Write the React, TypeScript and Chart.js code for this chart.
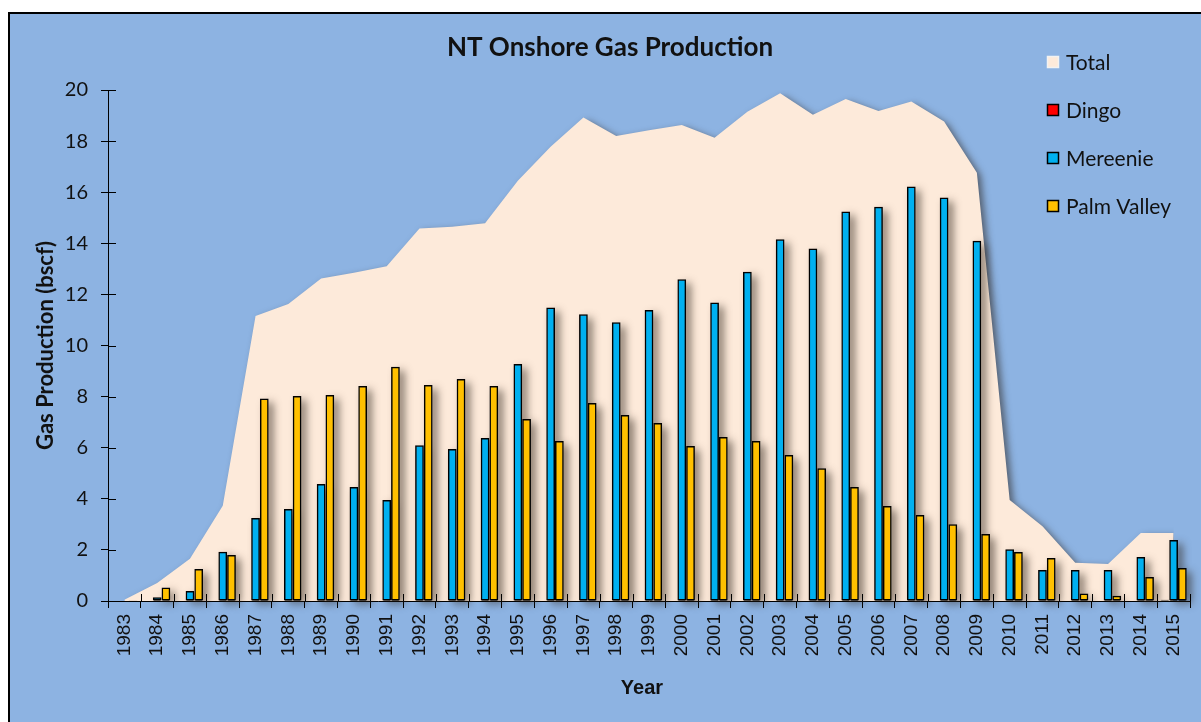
import React, { useEffect, useRef } from 'react';
import { Chart, registerables } from 'chart.js';

const years = ['1983','1984','1985','1986','1987','1988','1989','1990','1991','1992','1993','1994','1995','1996','1997','1998','1999','2000','2001','2002','2003','2004','2005','2006','2007','2008','2009','2010','2011','2012','2013','2014','2015'];
const totalValues = [0.05, 0.7, 1.65, 3.73, 11.15, 11.62, 12.62, 12.85, 13.1, 14.58, 14.65, 14.78, 16.45, 17.78, 18.92, 18.2, 18.42, 18.63, 18.13, 19.15, 19.87, 19.03, 19.65, 19.18, 19.55, 18.77, 16.76, 3.95, 2.93, 1.5, 1.45, 2.66, 2.66];
const dingoValues = [0, 0, 0, 0, 0, 0, 0, 0, 0, 0, 0, 0, 0, 0, 0, 0, 0, 0, 0, 0, 0, 0, 0, 0, 0, 0, 0, 0, 0, 0, 0, 0, 0.05];
const mereenieValues = [0, 0.15, 0.39, 1.93, 3.25, 3.6, 4.58, 4.46, 3.95, 6.1, 5.95, 6.38, 9.28, 11.49, 11.22, 10.91, 11.39, 12.59, 11.68, 12.89, 14.16, 13.8, 15.24, 15.43, 16.22, 15.79, 14.1, 2.03, 1.21, 1.21, 1.21, 1.72, 2.39];
const palmValleyValues = [0.03, 0.53, 1.25, 1.8, 7.93, 8.02, 8.06, 8.41, 9.17, 8.45, 8.69, 8.41, 7.12, 6.26, 7.75, 7.28, 6.97, 6.07, 6.42, 6.26, 5.71, 5.2, 4.46, 3.72, 3.37, 3.0, 2.62, 1.92, 1.68, 0.29, 0.21, 0.94, 1.29];
const yTickValues = [0, 2, 4, 6, 8, 10, 12, 14, 16, 18, 20];

const chartTitle = 'NT Onshore Gas Production';
const xAxisTitle = 'Year';
const yAxisTitle = 'Gas Production (bscf)';
const legendItems = [
  { label: 'Total', fill: '#FDEADA', stroke: '#F2F2F2' },
  { label: 'Dingo', fill: '#FF0000', stroke: '#000000' },
  { label: 'Mereenie', fill: '#00B0F0', stroke: '#000000' },
  { label: 'Palm Valley', fill: '#FFC000', stroke: '#000000' },
];

const setShadow = (ctx: CanvasRenderingContext2D, strong: boolean) => {
  ctx.shadowColor = strong ? 'rgba(45,35,25,0.7)' : 'rgba(40,30,20,0.55)';
  ctx.shadowBlur = strong ? 9 : 7;
  ctx.shadowOffsetX = strong ? 5 : 4;
  ctx.shadowOffsetY = 3;
};

let barShadowsDone = false;

const shadowPlugin = {
  id: 'shadowFx',
  beforeDatasetsDraw() {
    barShadowsDone = false;
  },
  beforeDatasetDraw(chart: any, args: any) {
    const ctx = chart.ctx as CanvasRenderingContext2D;
    const meta = args.meta;
    if (meta.type === 'line') {
      ctx.save();
      setShadow(ctx, false);
    } else if (meta.type === 'bar' && !barShadowsDone) {
      // paint the drop shadows of every bar before the first bar is drawn
      barShadowsDone = true;
      ctx.save();
      setShadow(ctx, true);
      ctx.fillStyle = 'rgba(0,0,0,1)';
      chart.data.datasets.forEach((_: any, di: number) => {
        const m = chart.getDatasetMeta(di);
        if (m.type !== 'bar') return;
        m.data.forEach((el: any) => {
          const p = el.getProps(['x', 'y', 'base', 'width'], true);
          const h = Math.abs(p.base - p.y);
          if (h > 0.5) ctx.fillRect(p.x - p.width / 2 + 1, Math.min(p.y, p.base) + 1, p.width - 2, h - 1);
        });
      });
      ctx.restore();
    }
  },
  afterDatasetDraw(chart: any, args: any) {
    if (args.meta.type === 'line') chart.ctx.restore();
  },
};

Chart.register(shadowPlugin as any);
Chart.register(...registerables);

const decorPlugin = {
  id: 'decor',
  afterDraw(chart: any) {
    const ctx = chart.ctx as CanvasRenderingContext2D;
    const area = chart.chartArea;
    const xs = chart.scales.x;
    const ys = chart.scales.y;
    ctx.save();
    // inner half of cross tick marks
    ctx.strokeStyle = '#000';
    ctx.lineWidth = 1;
    ctx.beginPath();
    yTickValues.forEach((v) => {
      const y = Math.round(ys.getPixelForValue(v)) + 0.5;
      ctx.moveTo(area.left, y);
      ctx.lineTo(area.left + 8, y);
    });
    const step = xs.getPixelForValue(1) - xs.getPixelForValue(0);
    for (let i = 0; i <= years.length; i++) {
      const x = Math.round(xs.getPixelForValue(i) - step / 2) + 0.5;
      ctx.moveTo(x, area.bottom);
      ctx.lineTo(x, area.bottom - 7);
    }
    ctx.stroke();

    // chart title
    ctx.fillStyle = '#111';
    ctx.font = 'bold 26px Lato';
    ctx.textAlign = 'center';
    ctx.textBaseline = 'middle';
    ctx.fillText(chartTitle, chart.width / 2 + 2, 34);

    // x-axis title
    ctx.font = 'bold 20px "Liberation Sans"';
    ctx.fillText(xAxisTitle, 632, 674);

    // legend
    ctx.font = '21px Lato';
    ctx.textAlign = 'left';
    legendItems.forEach((it, i) => {
      const cy = 48 + i * 48;
      ctx.fillStyle = it.fill;
      ctx.fillRect(1037, cy - 6, 12, 12);
      ctx.strokeStyle = it.stroke;
      ctx.lineWidth = 1.5;
      ctx.strokeRect(1037.5, cy - 5.5, 11, 11);
      ctx.fillStyle = '#111';
      ctx.fillText(it.label, 1056, cy + 1);
    });
    ctx.restore();
  },
};

export default function App() {
  const ref = useRef<HTMLCanvasElement | null>(null);
  useEffect(() => {
    if (!ref.current) return;
    const chart = new Chart(ref.current, {
      type: 'bar',
      data: {
        labels: years,
        datasets: [
          {
            type: 'line',
            label: 'Total',
            data: totalValues,
            backgroundColor: '#FDEADA',
            borderColor: 'rgba(0,0,0,0)',
            borderWidth: 1,
            pointRadius: 0,
            tension: 0,
            fill: 'origin',
            order: 10,
          } as any,
          {
            label: 'Dingo',
            data: dingoValues,
            backgroundColor: '#FF0000',
            borderColor: '#000',
            borderWidth: 1.5,
            borderSkipped: false,
            order: 1,
          },
          {
            label: 'Mereenie',
            data: mereenieValues,
            backgroundColor: '#00B0F0',
            borderColor: '#000',
            borderWidth: 1.5,
            borderSkipped: false,
            order: 1,
          },
          {
            label: 'Palm Valley',
            data: palmValleyValues,
            backgroundColor: '#FFC000',
            borderColor: '#000',
            borderWidth: 1.5,
            borderSkipped: false,
            order: 1,
          },
        ],
      },
      options: {
        animation: false,
        responsive: false,
        devicePixelRatio: 1,
        datasets: { bar: { categoryPercentage: 0.8, barPercentage: 1.0 } },
        layout: { padding: { left: 0, top: 76, right: 16, bottom: 0 } },
        plugins: {
          legend: { display: false },
          tooltip: { enabled: false },
          title: { display: false },
        },
        scales: {
          x: {
            offset: true,
            grid: { display: true, offset: true, drawOnChartArea: false, drawTicks: true, tickLength: 7, color: '#000' },
            border: { display: true, color: '#000', width: 1 },
            ticks: {
              autoSkip: false,
              minRotation: 90,
              maxRotation: 90,
              padding: 6,
              color: '#111',
              font: { family: 'Liberation Sans', size: 19 },
            },
            afterFit: (s: any) => { s.height = 119; },
          },
          y: {
            min: 0,
            max: 20,
            grid: { display: true, drawOnChartArea: false, drawTicks: true, tickLength: 7, color: '#000' },
            border: { display: true, color: '#000', width: 1 },
            ticks: {
              stepSize: 2,
              padding: 13,
              color: '#111',
              font: { family: 'Lato', size: 20 },
            },
            title: {
              display: true,
              text: yAxisTitle,
              color: '#111',
              font: { family: 'Lato', size: 22, weight: 'bold' },
              padding: { top: 23, bottom: 0 },
            },
            afterFit: (s: any) => { s.width = 98; },
          },
        },
      },
      plugins: [decorPlugin as any],
    });
    return () => chart.destroy();
  }, []);

  return (
    <div
      style={{
        position: 'fixed',
        left: 8,
        top: 12,
        width: 1200,
        height: 722,
        border: '2px solid #000',
        boxSizing: 'border-box',
        background: '#8DB3E2',
        overflow: 'hidden',
      }}
    >
      <canvas ref={ref} width={1196} height={706} style={{ display: 'block', width: 1196, height: 706 }} />
    </div>
  );
}
